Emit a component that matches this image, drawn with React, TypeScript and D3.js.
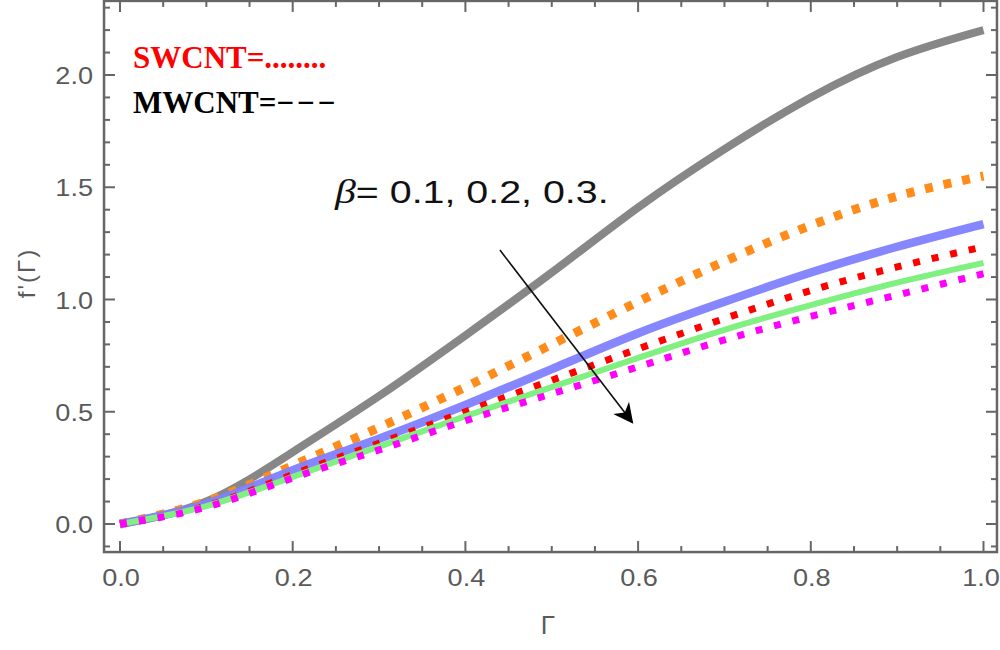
import * as d3 from 'd3';
import { useRef, useEffect } from 'react';

// sample positions along Γ
const gammaValues: number[] = [0, 0.1, 0.2, 0.3, 0.4, 0.5, 0.6, 0.7, 0.8, 0.9, 1.0];

// f'(Γ)
const grayValues: number[] = [0, 0.10, 0.32, 0.57, 0.84, 1.12, 1.41, 1.67, 1.90, 2.08, 2.20];
const orangeValues: number[] = [0, 0.10, 0.26, 0.43, 0.61, 0.80, 0.99, 1.17, 1.33, 1.46, 1.55];
const blueValues: number[] = [0, 0.09, 0.24, 0.38, 0.53, 0.69, 0.85, 0.99, 1.12, 1.235, 1.336];
const redValues: number[] = [0, 0.08, 0.22, 0.36, 0.50, 0.64, 0.78, 0.915, 1.04, 1.145, 1.235];
const greenValues: number[] = [0, 0.08, 0.21, 0.345, 0.48, 0.61, 0.74, 0.865, 0.975, 1.075, 1.163];
const magentaValues: number[] = [0, 0.075, 0.205, 0.33, 0.46, 0.58, 0.70, 0.82, 0.925, 1.02, 1.115];

const xTickLabels: string[] = ['0.0', '0.2', '0.4', '0.6', '0.8', '1.0'];
const yTickLabels: string[] = ['0.0', '0.5', '1.0', '1.5', '2.0'];

interface Series {
    values: number[];
    color: string;
    width: number;
    dash: string | null;
    opacity: number;
}

const seriesList: Series[] = [
    { values: grayValues, color: '#878787', width: 8, dash: null, opacity: 1 },
    { values: orangeValues, color: '#ff8c1a', width: 9, dash: '8 11', opacity: 1 },
    { values: blueValues, color: '#7f7fff', width: 8.5, dash: null, opacity: 0.95 },
    { values: redValues, color: '#ff0000', width: 7, dash: '7 12', opacity: 1 },
    { values: greenValues, color: '#80f080', width: 6, dash: null, opacity: 1 },
    { values: magentaValues, color: '#ff00ff', width: 7, dash: '7 12', opacity: 1 },
];

const App = () => {
    const ref = useRef<SVGSVGElement>(null);

    useEffect(() => {
        if (!ref.current) return;
        const svg = d3.select(ref.current);
        svg.selectAll('*').remove();

        const xScale = d3.scaleLinear().domain([0, 1]).range([120, 983.5]);
        const yScale = d3.scaleLinear().domain([0, 2]).range([524, 75]);

        const left = xScale(-0.0185), right = xScale(1.0156);
        const top = yScale(2.33), bottom = yScale(-0.125);
        const frameColor = '#666';

        // curves
        const line = d3.line<number>()
            .x((_, i) => xScale(gammaValues[i]))
            .y(d => yScale(d))
            .curve(d3.curveNatural);

        const plot = svg.append('g');
        seriesList.forEach(s => {
            plot.append('path')
                .attr('d', line(s.values))
                .attr('fill', 'none')
                .attr('stroke', s.color)
                .attr('stroke-width', s.width)
                .attr('stroke-opacity', s.opacity)
                .attr('stroke-dasharray', s.dash)
                .attr('stroke-linecap', 'butt');
        });

        // frame
        svg.append('rect')
            .attr('x', left).attr('y', top)
            .attr('width', right - left).attr('height', bottom - top)
            .attr('fill', 'none')
            .attr('stroke', frameColor)
            .attr('stroke-width', 2.5);

        const ticks = svg.append('g').attr('stroke', frameColor).attr('stroke-width', 2);

        const xMinor = d3.range(0, 1.0001, 0.05);
        xMinor.forEach(v => {
            const major = Math.abs(v * 5 - Math.round(v * 5)) < 1e-6;
            const len = major ? 11 : 6;
            ticks.append('line').attr('x1', xScale(v)).attr('x2', xScale(v)).attr('y1', bottom).attr('y2', bottom - len);
            ticks.append('line').attr('x1', xScale(v)).attr('x2', xScale(v)).attr('y1', top).attr('y2', top + len);
        });

        const yMinor = d3.range(-0.1, 2.3001, 0.1);
        yMinor.forEach(v => {
            const major = Math.abs(v * 2 - Math.round(v * 2)) < 1e-6;
            const len = major ? 11 : 6;
            ticks.append('line').attr('y1', yScale(v)).attr('y2', yScale(v)).attr('x1', left).attr('x2', left + len);
            ticks.append('line').attr('y1', yScale(v)).attr('y2', yScale(v)).attr('x1', right).attr('x2', right - len);
        });

        const labelFont = '"Liberation Sans", Arial, sans-serif';

        // tick labels, slightly stretched sideways like the original raster
        svg.append('g').selectAll('text')
            .data(xTickLabels)
            .enter().append('text')
            .attr('transform', d => `translate(${Math.min(xScale(+d) + 1, 981)},586) scale(1.13,1)`)
            .attr('text-anchor', 'middle')
            .attr('font-family', labelFont)
            .attr('font-size', 24)
            .attr('fill', '#5a5a5a')
            .text(d => d);

        svg.append('g').selectAll('text')
            .data(yTickLabels)
            .enter().append('text')
            .attr('transform', d => `translate(93,${yScale(+d) + 9}) scale(1.13,1)`)
            .attr('text-anchor', 'end')
            .attr('font-family', labelFont)
            .attr('font-size', 24)
            .attr('fill', '#5a5a5a')
            .text(d => d);

        // axis titles
        svg.append('text')
            .attr('x', 548).attr('y', 634)
            .attr('text-anchor', 'middle')
            .attr('font-family', labelFont)
            .attr('font-size', 26)
            .attr('fill', '#5a5a5a')
            .text('Γ');

        svg.append('text')
            .attr('transform', 'translate(35,273) rotate(-90)')
            .attr('text-anchor', 'middle')
            .attr('font-family', labelFont)
            .attr('font-size', 24)
            .attr('letter-spacing', 2)
            .attr('fill', '#5a5a5a')
            .text("f'(Γ)");

        // legend text
        const serif = '"Liberation Serif", "Times New Roman", serif';
        svg.append('text')
            .attr('x', 133).attr('y', 68)
            .attr('font-family', serif)
            .attr('font-weight', 'bold')
            .attr('font-size', 31)
            .attr('fill', '#ff0000')
            .text('SWCNT=........');

        const mw = svg.append('text')
            .attr('x', 133).attr('y', 113)
            .attr('font-family', serif)
            .attr('font-weight', 'bold')
            .attr('font-size', 31)
            .attr('fill', '#000');
        mw.append('tspan').text('MWCNT=');
        mw.append('tspan').attr('letter-spacing', 3).text('\u2212\u2212\u2212');

        // beta annotation
        const beta = svg.append('text')
            .attr('transform', 'translate(335,203) scale(1.27,1)')
            .attr('font-family', labelFont)
            .attr('font-size', 31)
            .attr('fill', '#111');
        beta.append('tspan')
            .attr('font-family', serif)
            .attr('font-style', 'italic')
            .attr('font-size', 33)
            .text('β');
        beta.append('tspan').text('= 0.1, 0.2, 0.3.');

        // arrow
        const defs = svg.append('defs');
        defs.append('marker')
            .attr('id', 'arrowHead')
            .attr('viewBox', '0 0 10 10')
            .attr('refX', 9).attr('refY', 5)
            .attr('markerUnits', 'userSpaceOnUse')
            .attr('markerWidth', 32).attr('markerHeight', 20)
            .attr('orient', 'auto')
            .append('path')
            .attr('d', 'M0,0 L10,5 L0,10 L3,5 Z')
            .attr('fill', '#000');

        svg.append('line')
            .attr('x1', xScale(0.44)).attr('y1', yScale(1.22))
            .attr('x2', xScale(0.593)).attr('y2', yScale(0.454))
            .attr('stroke', '#111')
            .attr('stroke-width', 1.6)
            .attr('marker-end', 'url(#arrowHead)');
    }, []);

    return (
        <svg ref={ref} width={1000} height={650}
            style={{ position: 'absolute', left: 0, top: 0, background: '#fff' }} />
    );
};

export default App;
